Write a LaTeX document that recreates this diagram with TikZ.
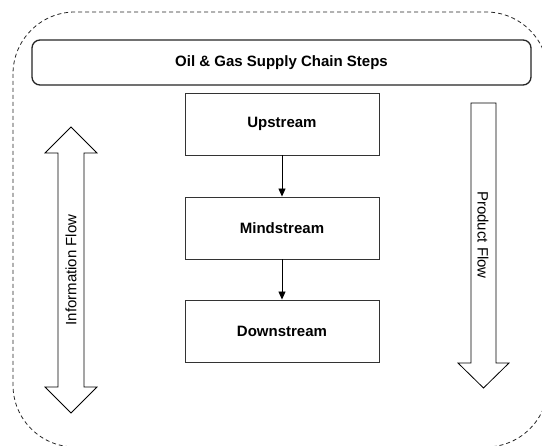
\documentclass[tikz,border=0pt]{standalone}
\usepackage{fontspec}
\setmainfont{Liberation Sans}
\usetikzlibrary{arrows.meta}
\begin{document}
\begin{tikzpicture}[x=1pt,y=-1pt,
  stepbox/.style={draw=black!80,line width=0.9pt,minimum width=194pt,minimum height=62pt,inner sep=0pt,font=\fontsize{15}{18}\selectfont\bfseries},
  titlebox/.style={draw=black!85,line width=1.3pt,rounded corners=8pt,minimum width=499pt,minimum height=45pt,inner sep=0pt,font=\fontsize{15}{18}\selectfont\bfseries},
  flowarrow/.style={draw=black,line width=0.8pt,fill=white,line join=miter},
  flowtext/.style={font=\fontsize{15}{18}\selectfont,inner sep=0pt},
  link/.style={draw=black,line width=0.9pt,-{Triangle[length=8pt,width=7pt]}}
]
\useasboundingbox (0,0) rectangle (542,446);
\clip (0,0) rectangle (542,446);
\fill[white] (0,0) rectangle (542,446);
% outer dashed frame
\draw[black!85,line width=0.8pt,dash pattern=on 4pt off 3pt,rounded corners=62pt] (13,12) rectangle (548,447);
% title
\node[titlebox] (title) at (281.5,62.5) {Oil \& Gas Supply Chain Steps};
% steps
\node[stepbox] (up) at (282,124) {Upstream};
\node[stepbox] (mid) at (282,228) {Mindstream};
\node[stepbox] (down) at (282,331) {Downstream};
\draw[link] (up.south) -- (mid.north);
\draw[link] (mid.south) -- (down.north);
% information flow double arrow
\draw[flowarrow] (71,127) -- (97,153) -- (84,153) -- (84,387) -- (97,387) -- (71,413)
  -- (45,387) -- (58,387) -- (58,153) -- (45,153) -- cycle;
\node[flowtext,rotate=90] (info) at (71,270) {Information Flow};
% product flow arrow
\draw[flowarrow] (471,103) -- (496,103) -- (496,363) -- (509,363) -- (483.5,388)
  -- (458,363) -- (471,363) -- cycle;
\node[flowtext,rotate=-90] (prod) at (483,235) {Product Flow};
\end{tikzpicture}
\end{document}
